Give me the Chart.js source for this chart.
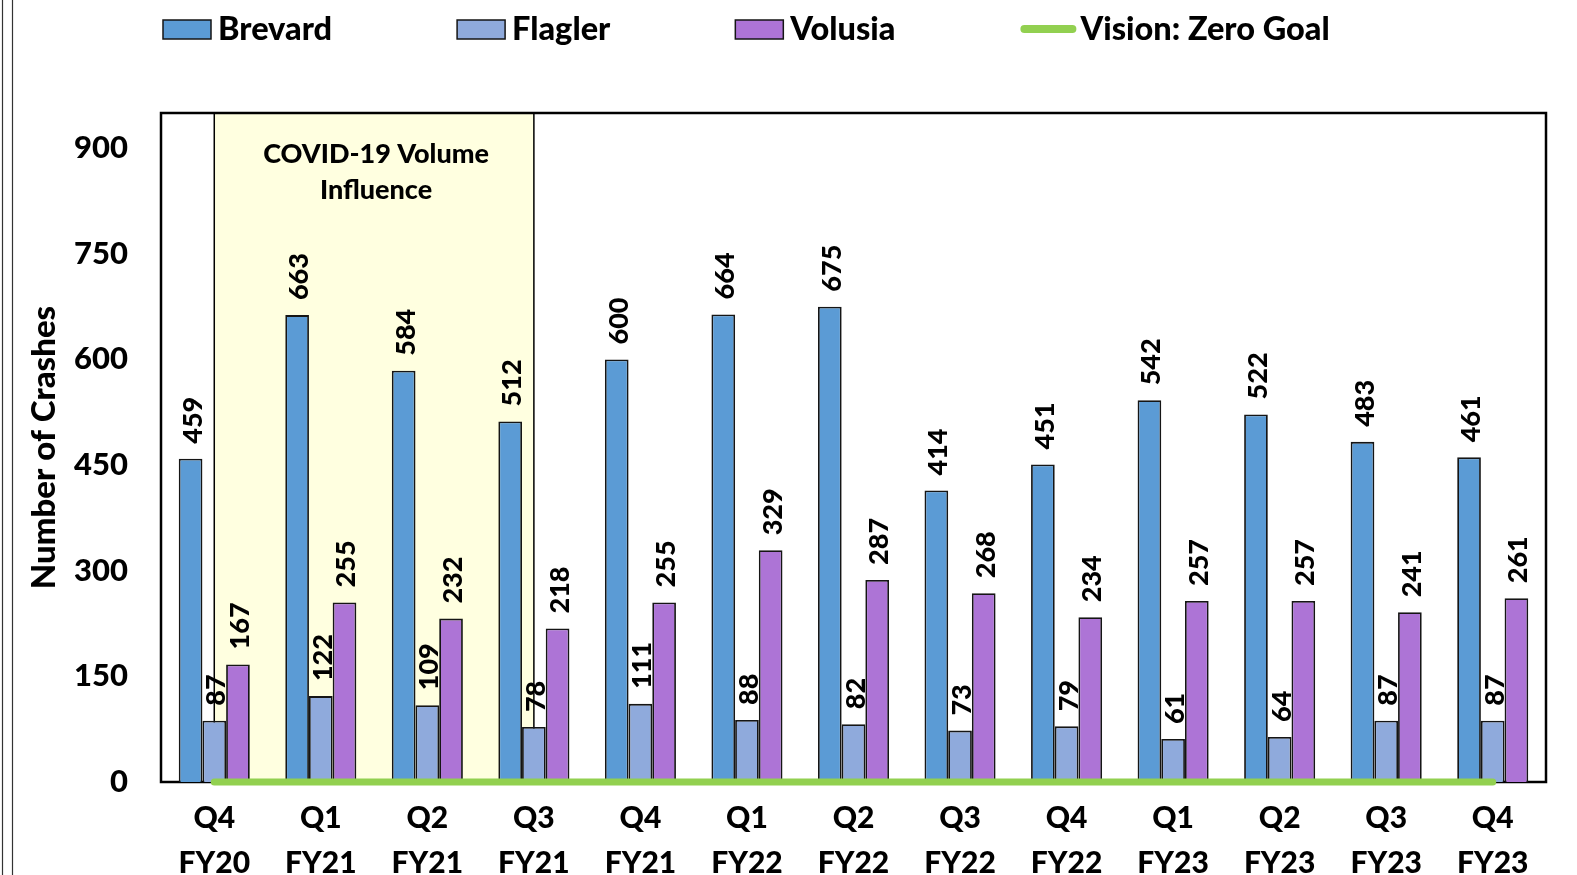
<!DOCTYPE html>
<html>
<head>
<meta charset="utf-8">
<script src="https://cdn.jsdelivr.net/npm/chart.js@4.4.1/dist/chart.umd.min.js"></script>
<style>
    html, body { margin: 0; padding: 0; background: #fff; }
    canvas { display: block; }
</style>
</head>
<body>
<canvas id="crash-chart" width="1577" height="875"></canvas>
<script>
const quarters = [["Q4", "FY20"], ["Q1", "FY21"], ["Q2", "FY21"], ["Q3", "FY21"], ["Q4", "FY21"], ["Q1", "FY22"], ["Q2", "FY22"],
    ["Q3", "FY22"], ["Q4", "FY22"], ["Q1", "FY23"], ["Q2", "FY23"], ["Q3", "FY23"], ["Q4", "FY23"]];
const brevard = [459, 663, 584, 512, 600, 664, 675, 414, 451, 542, 522, 483, 461];
const flagler = [87, 122, 109, 78, 111, 88, 82, 73, 79, 61, 64, 87, 87];
const volusia = [167, 255, 232, 218, 255, 329, 287, 268, 234, 257, 257, 241, 261];
const zeroGoal = [0, 0, 0, 0, 0, 0, 0, 0, 0, 0, 0, 0, 0];
const yTicks = [0, 150, 300, 450, 600, 750, 900];
const yMax = 950;
const covidRange = [0, 3];
const covidLabel = ["COVID-19 Volume", "Influence"];

const fontFamily = "Lato, 'Open Sans', sans-serif";
const fontWeight = "900";
const barBorder = "#151515";

const covidBox = {
    id: "covidBox",
    beforeDatasetsDraw(chart) {
        const { ctx, chartArea, scales } = chart;
        const left = scales.x.getPixelForValue(covidRange[0]);
        const right = scales.x.getPixelForValue(covidRange[1]);
        ctx.save();
        ctx.fillStyle = "#ffffe0";
        ctx.fillRect(left, chartArea.top, right - left, chartArea.bottom - chartArea.top);
        ctx.strokeStyle = "#000";
        ctx.lineWidth = 1.5;
        ctx.beginPath();
        ctx.moveTo(left, chartArea.top);
        ctx.lineTo(left, chartArea.bottom);
        ctx.moveTo(right, chartArea.top);
        ctx.lineTo(right, chartArea.bottom);
        ctx.stroke();

        ctx.fillStyle = "#000";
        ctx.font = `${fontWeight} 27px ${fontFamily}`;
        ctx.textAlign = "center";
        ctx.textBaseline = "middle";
        covidLabel.forEach((line, i) => ctx.fillText(line, (left + right) / 2 + 2, chartArea.top + 41 + i * 36));

        // plot area frame
        ctx.lineWidth = 2.5;
        ctx.strokeRect(chartArea.left, chartArea.top, chartArea.right - chartArea.left, chartArea.bottom - chartArea.top);
        ctx.restore();
    }
};

const barLabels = {
    id: "barLabels",
    afterDatasetsDraw(chart) {
        const { ctx } = chart;
        ctx.save();
        ctx.fillStyle = "#000";
        ctx.font = `${fontWeight} 27px ${fontFamily}`;
        ctx.textAlign = "left";
        ctx.textBaseline = "alphabetic";
        chart.data.datasets.forEach((dataset, i) => {
            if (dataset.type === "line") return;
            chart.getDatasetMeta(i).data.forEach((bar, j) => {
                ctx.save();
                ctx.translate(bar.x, bar.y - 15);
                ctx.rotate(-Math.PI / 2);
                ctx.fillText(String(dataset.data[j]), 0, 11);
                ctx.restore();
            });
        });
        ctx.restore();
    }
};

const legendAndFrame = {
    id: "legendAndFrame",
    afterDraw(chart) {
        const { ctx } = chart;
        ctx.save();
        ctx.font = `${fontWeight} 32.5px ${fontFamily}`;
        ctx.textBaseline = "middle";
        ctx.textAlign = "left";
        let x = 163;
        const y = 29;
        chart.data.datasets.forEach((dataset) => {
            if (dataset.type === "line") {
                ctx.strokeStyle = dataset.borderColor;
                ctx.lineWidth = 8;
                ctx.lineCap = "round";
                ctx.beginPath();
                ctx.moveTo(x + 4, y);
                ctx.lineTo(x + 52, y);
                ctx.stroke();
                x += 60;
            } else {
                ctx.fillStyle = dataset.backgroundColor;
                ctx.fillRect(x, y - 9, 48, 19);
                ctx.strokeStyle = barBorder;
                ctx.lineWidth = 1.5;
                ctx.strokeRect(x, y - 9, 48, 19);
                x += 55;
            }
            ctx.fillStyle = "#000";
            ctx.fillText(dataset.label, x, y + 1);
            x += ctx.measureText(dataset.label).width + 125;
        });

        // document frame on the left edge
        ctx.strokeStyle = "#333";
        ctx.lineWidth = 1.2;
        ctx.beginPath();
        ctx.moveTo(2.5, 0);
        ctx.lineTo(2.5, chart.height);
        ctx.moveTo(12.5, 0);
        ctx.lineTo(12.5, chart.height);
        ctx.stroke();
        ctx.restore();
    }
};

new Chart(document.querySelector("#crash-chart"), {
    type: "bar",
    data: {
        labels: quarters,
        datasets: [
            { type: "bar", label: "Brevard", data: brevard, backgroundColor: "#5b9bd5", borderColor: barBorder, borderWidth: 1.8, order: 1 },
            { type: "bar", label: "Flagler", data: flagler, backgroundColor: "#8faadc", borderColor: barBorder, borderWidth: 1.8, order: 1 },
            { type: "bar", label: "Volusia", data: volusia, backgroundColor: "#ad74d6", borderColor: barBorder, borderWidth: 1.8, order: 1 },
            { type: "line", label: "Vision: Zero Goal", data: zeroGoal, borderColor: "#92d050", backgroundColor: "#92d050", borderWidth: 7, borderCapStyle: "round", pointRadius: 0, clip: false, order: 0 }
        ]
    },
    options: {
        responsive: false,
        animation: false,
        layout: { padding: { top: 113, right: 31, bottom: 0, left: 0 } },
        datasets: { bar: { barPercentage: 1, categoryPercentage: 0.667 } },
        scales: {
            x: {
                grid: { display: false },
                border: { display: false },
                afterFit: (scale) => { scale.height = 93; },
                ticks: { color: "#000", autoSkip: false, maxRotation: 0, padding: 6, font: { family: fontFamily, weight: fontWeight, size: 30, lineHeight: 1.5 } }
            },
            y: {
                min: 0,
                max: yMax,
                grid: { display: false, drawTicks: false },
                border: { display: false },
                afterFit: (scale) => { scale.width = 161; },
                afterBuildTicks: (scale) => { scale.ticks = yTicks.map((value) => ({ value })); },
                ticks: { color: "#000", padding: 33, font: { family: fontFamily, weight: fontWeight, size: 31 } },
                title: { display: true, text: "Number of Crashes", color: "#000", padding: { top: 25, bottom: 0 }, font: { family: fontFamily, weight: fontWeight, size: 33 } }
            }
        },
        plugins: { legend: { display: false }, tooltip: { enabled: false } }
    },
    plugins: [covidBox, barLabels, legendAndFrame]
});
</script>
</body>
</html>
